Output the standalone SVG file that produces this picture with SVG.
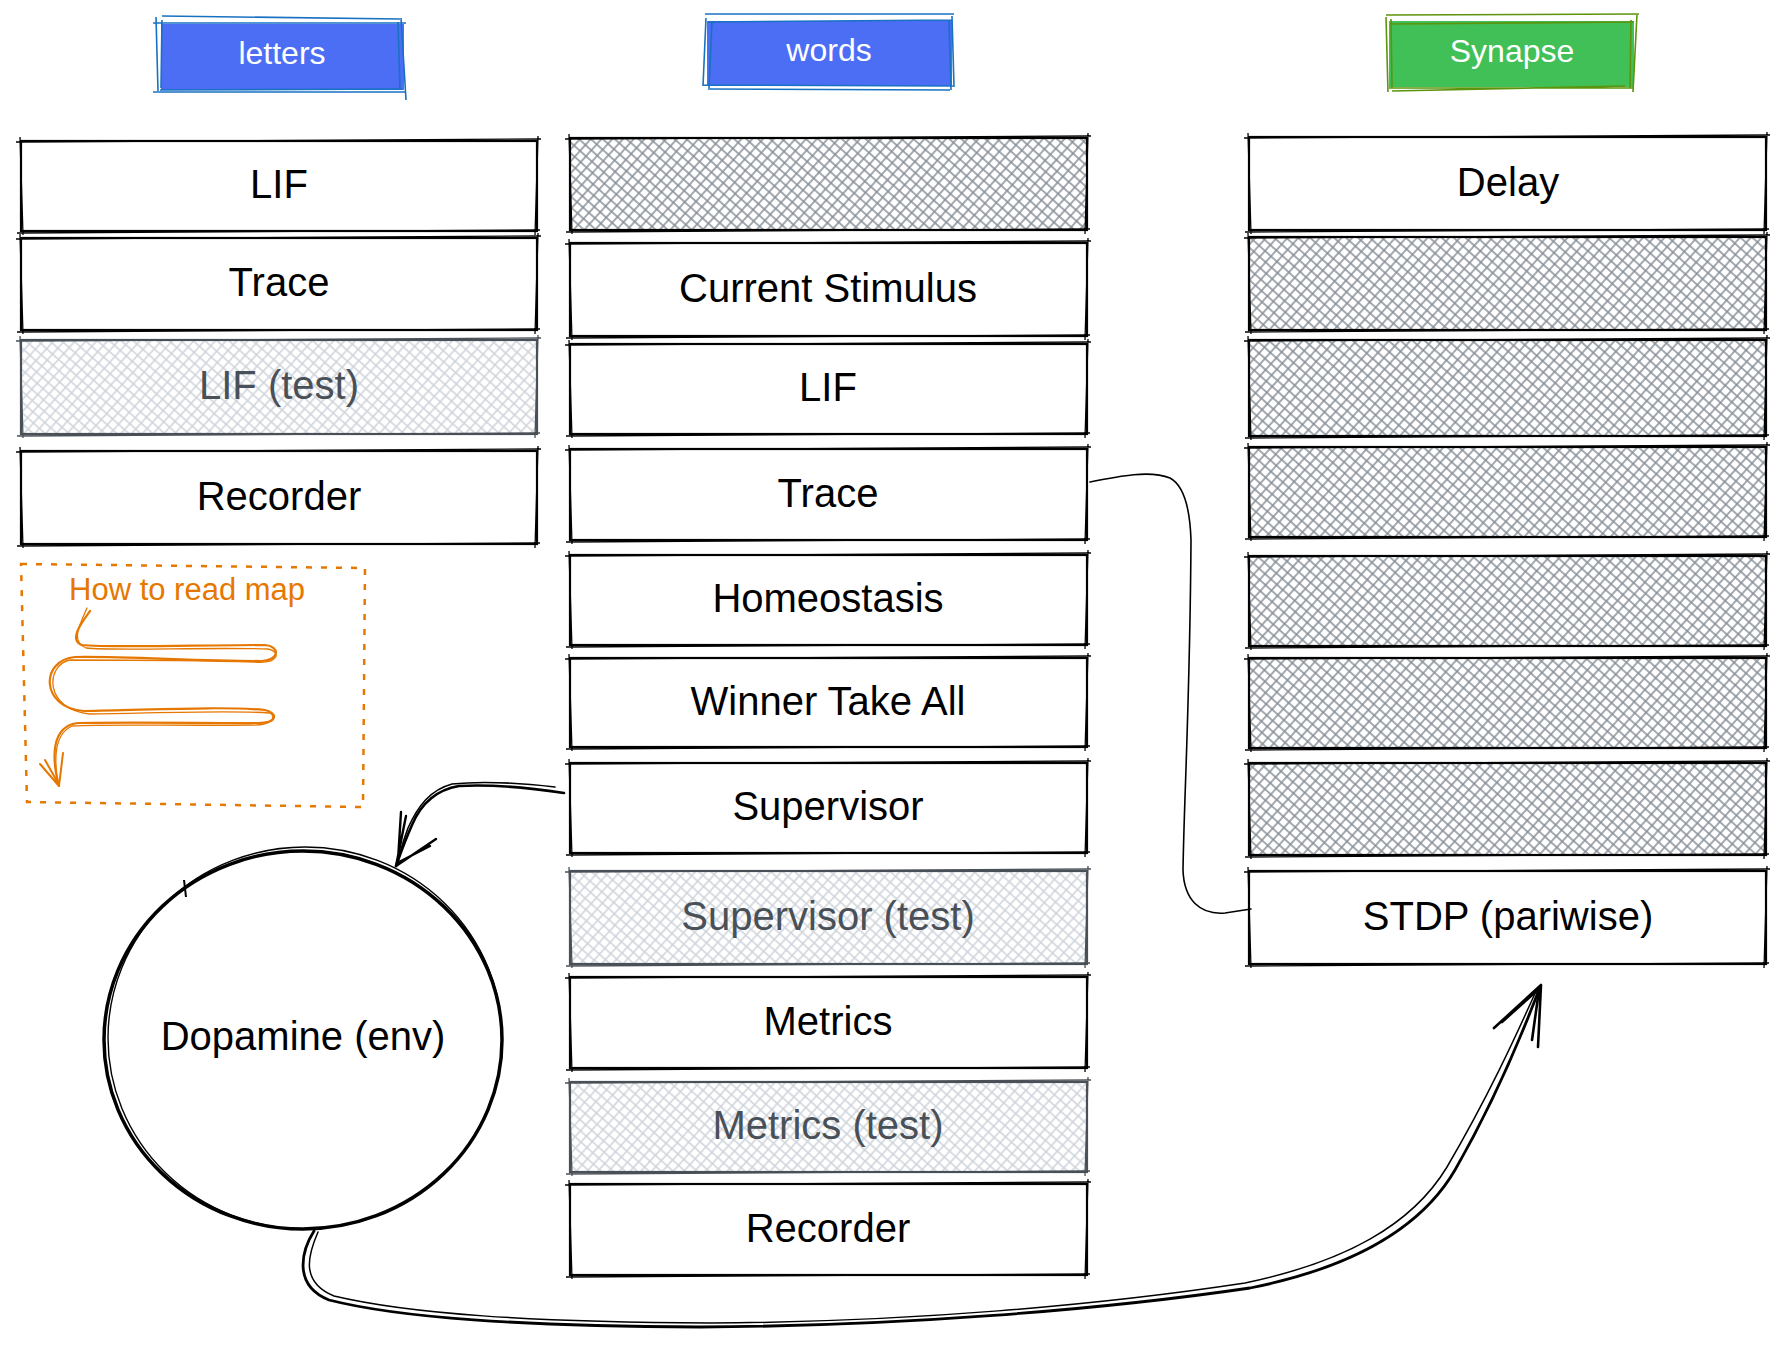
<svg xmlns="http://www.w3.org/2000/svg" width="1782" height="1350" viewBox="0 0 1782 1350">
<defs>
<pattern id="hd" patternUnits="userSpaceOnUse" width="8" height="8" patternTransform="rotate(42)">
<path d="M0 4 H8 M4 0 V8" stroke="#868e96" stroke-width="1.5" fill="none"/>
</pattern>
<pattern id="hl" patternUnits="userSpaceOnUse" width="8" height="8" patternTransform="rotate(42)">
<path d="M0 4 H8 M4 0 V8" stroke="#ced4da" stroke-width="1.5" fill="none"/>
</pattern>
<style>
.b{fill:#fff;stroke:#000;stroke-width:2.2}
.bh{fill:url(#hd);stroke:#000;stroke-width:2.2}
.bt{fill:url(#hl);stroke:#495057;stroke-width:2.2}
.s2{fill:none;stroke:#000;stroke-width:1.3}
.s2t{fill:none;stroke:#495057;stroke-width:1.3}
.t{font-family:"Liberation Sans",Arial,sans-serif;font-size:40px;fill:#000;text-anchor:middle}
.tt{font-family:"Liberation Sans",Arial,sans-serif;font-size:40px;fill:#495057;text-anchor:middle}
.bt2{font-family:"Liberation Sans",Arial,sans-serif;font-size:32px;fill:#fff;text-anchor:middle}
.c{fill:none;stroke:#000;stroke-linecap:round;stroke-linejoin:round}
.o{fill:none;stroke:#e67700;stroke-linecap:round;stroke-linejoin:round}
</style>
</defs>

<!-- badges -->
<g id="badge-letters">
<rect x="161" y="24" width="243" height="66" fill="#4c6ef5"/>
<path d="M153 23 L406 23 M162 16 L400 19 M156 17 L158 91 M162 20 L161 88 M401 18 L406 100 M398 22 L400 90 M153 92 L406 92 M160 90 L402 89" fill="none" stroke="#1971c2" stroke-width="1.6"/>
<text class="bt2" x="282" y="64">letters</text>
</g>
<g id="badge-words">
<rect x="707" y="21" width="245" height="65" fill="#4c6ef5"/>
<path d="M705 14 L954 14 M708 22 L952 20 M706 18 L703 86 M712 21 L709 88 M952 16 L954 87 M949 20 L951 90 M703 85 L953 86 M708 89 L950 90" fill="none" stroke="#1971c2" stroke-width="1.6"/>
<text class="bt2" x="829" y="61">words</text>
</g>
<g id="badge-synapse">
<rect x="1389" y="21" width="245" height="66" fill="#40c057"/>
<path d="M1386 15 L1639 14 M1390 24 L1634 22 M1386 17 L1388 92 M1391 19 L1392 88 M1637 14 L1633 92 M1631 20 L1630 88 M1389 88 L1633 88 M1392 91 L1625 86" fill="none" stroke="#5c940d" stroke-width="1.6"/>
<text class="bt2" x="1512" y="62">Synapse</text>
</g>

<!-- letters column -->
<g id="letters-lif">
<rect class="b" x="21" y="141" width="516" height="90"/>
<path class="s2" d="M16 142 L541 139 M538 136 L535 235 M540 230 L17 233 M23 235 L20 137"/>
<text class="t" x="279" y="198">LIF</text>
</g>
<g id="letters-trace">
<rect class="b" x="21" y="238" width="516" height="92"/>
<path class="s2" d="M16 239 L541 236 M538 233 L535 334 M540 329 L17 332 M23 334 L20 234"/>
<text class="t" x="279" y="296">Trace</text>
</g>
<g id="letters-lif-test">
<rect class="bt" x="21" y="340" width="516" height="94"/>
<path class="s2t" d="M16 341 L541 338 M538 335 L535 438 M540 433 L17 436 M23 438 L20 336"/>
<text class="tt" x="279" y="399">LIF (test)</text>
</g>
<g id="letters-recorder">
<rect class="b" x="21" y="451" width="516" height="93"/>
<path class="s2" d="M16 452 L541 449 M538 446 L535 548 M540 543 L17 546 M23 548 L20 447"/>
<text class="t" x="279" y="510">Recorder</text>
</g>

<!-- legend -->
<g id="legend">
<path d="M21 564 L365 568 L363 807 L27 802 Z" fill="none" stroke="#e67700" stroke-width="2.5" stroke-dasharray="6 9"/>
<text x="69" y="600" font-family="'Liberation Sans',Arial,sans-serif" font-size="31" fill="#e67700">How to read map</text>
<path class="o" stroke-width="2.2" d="M90 611 C82 622 68 640 82 645 C110 648 200 645 265 645 C280 646 280 660 262 661 C200 661 120 656 75 657 C40 660 40 708 84 711 C150 710 220 706 265 710 C278 713 278 723 258 723 C200 723 120 722 78 723 C50 726 52 760 59 786"/>
<path class="o" stroke-width="1.3" d="M87 608 C80 624 70 642 86 648 C115 651 210 647 268 649 C282 652 278 664 255 662 C190 660 110 660 70 660 C45 665 44 710 90 714 C160 713 230 710 270 713 C276 716 274 726 250 725 C180 726 110 724 72 726 C52 735 55 765 58 784"/>
<path class="o" stroke-width="2" d="M40 764 L59 786 L63 753 M45 760 L58 783"/>
</g>

<!-- words column -->
<g id="words-empty">
<rect class="bh" x="570" y="138" width="517" height="92"/>
<path class="s2" d="M565 139 L1091 136 M1088 133 L1085 234 M1090 229 L566 232 M572 234 L569 134"/>
</g>
<g id="words-current-stimulus">
<rect class="b" x="570" y="243" width="517" height="93"/>
<path class="s2" d="M565 244 L1091 241 M1088 238 L1085 340 M1090 335 L566 338 M572 340 L569 239"/>
<text class="t" x="828" y="302">Current Stimulus</text>
</g>
<g id="words-lif">
<rect class="b" x="570" y="344" width="517" height="90"/>
<path class="s2" d="M565 345 L1091 342 M1088 339 L1085 438 M1090 433 L566 436 M572 438 L569 340"/>
<text class="t" x="828" y="401">LIF</text>
</g>
<g id="words-trace">
<rect class="b" x="570" y="449" width="517" height="91"/>
<path class="s2" d="M565 450 L1091 447 M1088 444 L1085 544 M1090 539 L566 542 M572 544 L569 445"/>
<text class="t" x="828" y="507">Trace</text>
</g>
<g id="words-homeostasis">
<rect class="b" x="570" y="555" width="517" height="90"/>
<path class="s2" d="M565 556 L1091 553 M1088 550 L1085 649 M1090 644 L566 647 M572 649 L569 551"/>
<text class="t" x="828" y="612">Homeostasis</text>
</g>
<g id="words-wta">
<rect class="b" x="570" y="658" width="517" height="89"/>
<path class="s2" d="M565 659 L1091 656 M1088 653 L1085 751 M1090 746 L566 749 M572 751 L569 654"/>
<text class="t" x="828" y="715">Winner Take All</text>
</g>
<g id="words-supervisor">
<rect class="b" x="570" y="763" width="517" height="90"/>
<path class="s2" d="M565 764 L1091 761 M1088 758 L1085 857 M1090 852 L566 855 M572 857 L569 759"/>
<text class="t" x="828" y="820">Supervisor</text>
</g>
<g id="words-supervisor-test">
<rect class="bt" x="570" y="871" width="517" height="93"/>
<path class="s2t" d="M565 872 L1091 869 M1088 866 L1085 968 M1090 963 L566 966 M572 968 L569 867"/>
<text class="tt" x="828" y="930">Supervisor (test)</text>
</g>
<g id="words-metrics">
<rect class="b" x="570" y="977" width="517" height="91"/>
<path class="s2" d="M565 978 L1091 975 M1088 972 L1085 1072 M1090 1067 L566 1070 M572 1072 L569 973"/>
<text class="t" x="828" y="1035">Metrics</text>
</g>
<g id="words-metrics-test">
<rect class="bt" x="570" y="1082" width="517" height="90"/>
<path class="s2t" d="M565 1083 L1091 1080 M1088 1077 L1085 1176 M1090 1171 L566 1174 M572 1176 L569 1078"/>
<text class="tt" x="828" y="1139">Metrics (test)</text>
</g>
<g id="words-recorder">
<rect class="b" x="570" y="1184" width="517" height="91"/>
<path class="s2" d="M565 1185 L1091 1182 M1088 1179 L1085 1279 M1090 1274 L566 1277 M572 1279 L569 1180"/>
<text class="t" x="828" y="1242">Recorder</text>
</g>

<!-- synapse column -->
<g id="syn-delay">
<rect class="b" x="1249" y="137" width="517" height="93"/>
<path class="s2" d="M1244 138 L1770 135 M1767 132 L1764 234 M1769 229 L1245 232 M1251 234 L1248 133"/>
<text class="t" x="1508" y="196">Delay</text>
</g>
<g id="syn-empty-1">
<rect class="bh" x="1249" y="237" width="517" height="93"/>
<path class="s2" d="M1244 238 L1770 235 M1767 232 L1764 334 M1769 329 L1245 332 M1251 334 L1248 233"/>
</g>
<g id="syn-empty-2">
<rect class="bh" x="1249" y="340" width="517" height="96"/>
<path class="s2" d="M1244 341 L1770 338 M1767 335 L1764 440 M1769 435 L1245 438 M1251 440 L1248 336"/>
</g>
<g id="syn-empty-3">
<rect class="bh" x="1249" y="447" width="517" height="90"/>
<path class="s2" d="M1244 448 L1770 445 M1767 442 L1764 541 M1769 536 L1245 539 M1251 541 L1248 443"/>
</g>
<g id="syn-empty-4">
<rect class="bh" x="1249" y="556" width="517" height="90"/>
<path class="s2" d="M1244 557 L1770 554 M1767 551 L1764 650 M1769 645 L1245 648 M1251 650 L1248 552"/>
</g>
<g id="syn-empty-5">
<rect class="bh" x="1249" y="658" width="517" height="90"/>
<path class="s2" d="M1244 659 L1770 656 M1767 653 L1764 752 M1769 747 L1245 750 M1251 752 L1248 654"/>
</g>
<g id="syn-empty-6">
<rect class="bh" x="1249" y="763" width="517" height="92"/>
<path class="s2" d="M1244 764 L1770 761 M1767 758 L1764 859 M1769 854 L1245 857 M1251 859 L1248 759"/>
</g>
<g id="syn-stdp">
<rect class="b" x="1249" y="871" width="517" height="93"/>
<path class="s2" d="M1244 872 L1770 869 M1767 866 L1764 968 M1769 963 L1245 966 M1251 968 L1248 867"/>
<text class="t" x="1508" y="930">STDP (pariwise)</text>
</g>

<!-- dopamine -->
<g id="dopamine">
<ellipse cx="303" cy="1040" rx="199" ry="189" fill="#fff" stroke="#000" stroke-width="3.5"/>
<ellipse cx="305" cy="1038" rx="197" ry="191" fill="none" stroke="#000" stroke-width="1.4"/>
<path d="M184 880 L186 897" stroke="#000" stroke-width="2" fill="none"/>
<text class="t" x="303" y="1050" font-size="38">Dopamine (env)</text>
</g>

<!-- connectors -->
<g id="connectors">
<path class="c" stroke-width="1.6" d="M1090 482 C1120 476 1150 470 1170 478 C1185 486 1190 510 1191 540 C1190 700 1184 800 1183 870 C1184 900 1200 915 1225 913 L1251 909"/>
<path class="c" stroke-width="2.6" d="M564 793 C530 788 490 784 459 786 C435 790 420 806 412 825 C404 843 400 855 396 866"/>
<path class="c" stroke-width="1.6" d="M555 787 C520 783 480 781 452 784 C430 790 418 806 408 828 C402 845 399 855 398 861"/>
<path class="c" stroke-width="2.4" d="M406 816 L396 866 L436 839 M401 812 L398 860 M430 846 L399 862"/>
<path class="c" stroke-width="2.8" d="M314 1231 C302 1250 292 1285 329 1300 C400 1318 520 1326 700 1327 C900 1326 1100 1310 1250 1288 C1350 1268 1420 1230 1455 1170 C1495 1100 1520 1040 1540 987"/>
<path class="c" stroke-width="1.5" d="M318 1232 C308 1255 300 1282 334 1296 C410 1314 530 1322 710 1323 C910 1322 1100 1305 1245 1283 C1345 1262 1412 1225 1447 1167 C1488 1097 1515 1038 1537 989"/>
<path class="c" stroke-width="2.6" d="M1494 1028 L1541 985 L1538 1047 M1502 1022 L1540 988 M1532 1040 L1539 990"/>
</g>
</svg>
